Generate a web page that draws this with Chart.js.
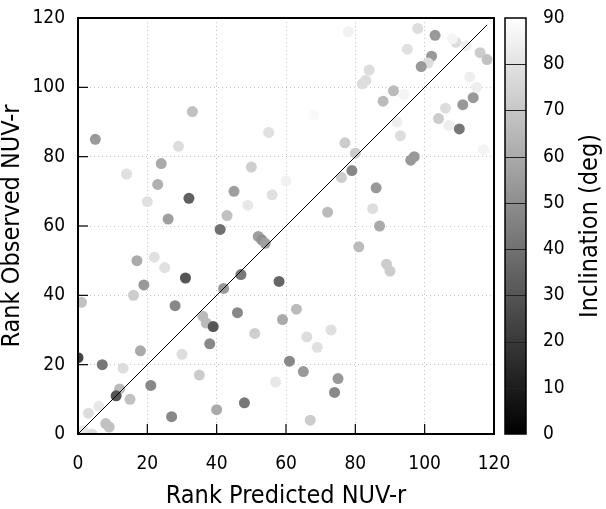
<!DOCTYPE html>
<html>
<head>
<meta charset="utf-8">
<script src="https://cdn.jsdelivr.net/npm/chart.js@4/dist/chart.umd.min.js"></script>
<style>
  html, body { margin: 0; padding: 0; background: #fff; }
  #wrap { width: 606px; height: 509px; }
</style>
</head>
<body>
<div id="wrap"><canvas id="chart" width="606" height="509"></canvas></div>
<script>
// Rank of predicted NUV-r for each galaxy
const predRank = [
  5, 33, 55, 29, 24, 14, 50, 23, 60, 45, 20, 32, 56, 49, 26, 43, 41, 52, 53, 54,
  17, 22, 25, 31, 47, 58, 19, 16, 42, 1, 28, 36, 37, 39, 46, 59, 51, 38, 18, 30,
  61, 0, 7, 13, 35, 57, 21, 12, 11, 15, 6, 3, 48, 40, 27, 8, 9, 1.5, 4,
  78, 98, 103, 109, 112, 116, 118, 95, 102, 101, 99, 113, 115, 114, 111, 106, 104, 107, 110, 117,
  84, 83, 82, 91, 88, 94, 68, 92, 93, 77, 80, 79, 76, 97, 96, 86, 85, 72, 87, 81,
  89, 90, 63, 73, 66, 69, 65, 75, 74, 67, 108
];
// Rank of observed NUV-r
const obsRank = [
  85, 93, 87, 83, 78, 75, 77, 72, 73, 70, 67, 68, 69, 66, 62, 63, 59, 57, 56, 55,
  50, 51, 48, 45, 46, 44, 43, 40, 42, 38, 37, 34, 32, 31, 35, 33, 29, 26, 24, 23,
  21, 22, 20, 19, 17, 15, 14, 13, 11, 10, 8, 6, 9, 7, 5, 3, 2, 1, 0,
  116, 117, 115, 113, 112, 110, 108, 111, 109, 107, 106, 103, 100, 97, 95, 94, 91, 89, 88, 82,
  105, 102, 101, 99, 96, 98, 92, 90, 86, 84, 81, 76, 74, 80, 79, 71, 65, 64, 60, 54,
  49, 47, 36, 30, 28, 25, 18, 16, 12, 4, 114
];
// Inclination in degrees (colour of each point)
const inclination = [
  54, 68, 79, 78, 60, 79, 73, 62, 85, 56, 79, 34, 79, 82, 56, 68, 40, 56, 51, 56,
  60, 79, 79, 30, 42, 36, 54, 72, 54, 68, 48, 66, 66, 30, 48, 60, 73, 48, 60, 78,
  48, 24, 42, 78, 72, 82, 48, 66, 30, 68, 82, 78, 42, 60, 48, 68, 68, 82, 78,
  85, 78, 54, 78, 84, 72, 68, 79, 54, 78, 54, 84, 84, 54, 54, 78, 72, 84, 42, 86,
  78, 78, 78, 66, 66, 86, 88, 84, 78, 72, 72, 48, 72, 54, 54, 54, 78, 66, 60, 66,
  72, 72, 66, 79, 78, 79, 54, 54, 48, 72, 86
];
const oneToOne = [0, 118];
const axisTicks = [0, 20, 40, 60, 80, 100, 120];
const cbTicks = [0, 10, 20, 30, 40, 50, 60, 70, 80, 90];

const FONT = "'DejaVu Sans Condensed', 'DejaVu Sans', sans-serif";
const AREA = { left: 78, top: 18, right: 494, bottom: 434 };

function greyFor(incl) {
  const g = Math.round(Math.max(0, Math.min(90, incl)) / 90 * 255);
  return 'rgb(' + g + ',' + g + ',' + g + ')';
}

const points = predRank.map((x, i) => ({ x: x, y: obsRank[i] }));
const pointColors = inclination.map(greyFor);

// Pin the plot box where the reference has it
const fixedLayout = {
  id: 'fixedLayout',
  afterLayout(chart) {
    const a = chart.chartArea;
    Object.assign(a, AREA, { width: AREA.right - AREA.left, height: AREA.bottom - AREA.top });
    const xs = chart.scales.x, ys = chart.scales.y, cb = chart.scales.cb;
    Object.assign(xs, { left: AREA.left, right: AREA.right, width: AREA.right - AREA.left,
      top: AREA.bottom, bottom: chart.height, height: chart.height - AREA.bottom });
    Object.assign(ys, { left: 0, right: AREA.left, width: AREA.left,
      top: AREA.top, bottom: AREA.bottom, height: AREA.bottom - AREA.top });
    Object.assign(cb, { left: AREA.right, right: chart.width, width: chart.width - AREA.right,
      top: AREA.top, bottom: AREA.bottom, height: AREA.bottom - AREA.top });
    [xs, ys, cb].forEach(s => s.configure());
  }
};

// Colour bar, frame and inward ticks
const decorations = {
  id: 'decorations',
  afterDraw(chart) {
    const ctx = chart.ctx;
    const area = chart.chartArea;
    const xs = chart.scales.x, ys = chart.scales.y, cb = chart.scales.cb;
    ctx.save();

    // colour bar
    const bx = cb.left + 11, bw = 21;
    const top = cb.getPixelForValue(90), bot = cb.getPixelForValue(0);
    const grad = ctx.createLinearGradient(0, bot, 0, top);
    grad.addColorStop(0, '#000');
    grad.addColorStop(1, '#fff');
    ctx.fillStyle = grad;
    ctx.fillRect(bx, top, bw, bot - top);
    ctx.strokeStyle = '#222';
    ctx.lineWidth = 1;
    cbTicks.forEach(v => {
      if (v === 0 || v === 90) return;
      const py = Math.round(cb.getPixelForValue(v)) + 0.5;
      ctx.beginPath();
      ctx.moveTo(bx, py);
      ctx.lineTo(bx + bw, py);
      ctx.stroke();
    });
    ctx.strokeStyle = '#000';
    ctx.lineWidth = 1.5;
    ctx.strokeRect(bx, top, bw, bot - top);

    // frame
    ctx.lineWidth = 2;
    ctx.strokeRect(area.left, area.top, area.right - area.left, area.bottom - area.top);

    // inward ticks
    ctx.lineWidth = 1.2;
    axisTicks.forEach(v => {
      const px = xs.getPixelForValue(v);
      ctx.beginPath();
      ctx.moveTo(px, area.bottom);
      ctx.lineTo(px, area.bottom - 10);
      ctx.stroke();
      const py = ys.getPixelForValue(v);
      ctx.beginPath();
      ctx.moveTo(area.left, py);
      ctx.lineTo(area.left + 10, py);
      ctx.stroke();
    });

    // colour bar title, reading bottom to top
    ctx.fillStyle = '#000';
    ctx.font = '25px ' + FONT;
    ctx.textAlign = 'center';
    ctx.textBaseline = 'alphabetic';
    ctx.translate(597, (top + bot) / 2);
    ctx.rotate(-Math.PI / 2);
    ctx.fillText('Inclination (deg)', 0, 0);
    ctx.restore();
  }
};

const gridStyle = {
  color: ctx => (ctx.tick.value === 0 || ctx.tick.value === 120) ? 'rgba(0,0,0,0)' : '#c8c8c8',
  lineWidth: 1,
  drawTicks: false
};

new Chart(document.getElementById('chart'), {
  type: 'scatter',
  data: {
    datasets: [
      {
        label: 'one-to-one',
        data: oneToOne.map(v => ({ x: v, y: v })),
        showLine: true,
        borderColor: '#000',
        borderWidth: 1,
        pointRadius: 0,
        order: 0
      },
      {
        label: 'galaxies',
        data: points,
        backgroundColor: pointColors,
        borderWidth: 0,
        pointRadius: 5.5,
        pointHoverRadius: 5.5,
        order: 1
      }
    ]
  },
  options: {
    responsive: false,
    devicePixelRatio: 1,
    animation: false,
    layout: { autoPadding: false },
    plugins: { legend: { display: false }, tooltip: { enabled: false } },
    scales: {
      x: {
        type: 'linear', min: 0, max: 120,
        ticks: { stepSize: 20, color: '#000', padding: 19, font: { family: FONT, size: 19 } },
        grid: gridStyle,
        border: { display: false, dash: [1, 3] },
        title: { display: true, text: 'Rank Predicted NUV-r', color: '#000',
          font: { family: FONT, size: 25, lineHeight: 1 }, padding: 0 }
      },
      y: {
        type: 'linear', min: 0, max: 120,
        ticks: { stepSize: 20, color: '#000', padding: 13, font: { family: FONT, size: 19 } },
        grid: gridStyle,
        border: { display: false, dash: [1, 3] },
        title: { display: true, text: 'Rank Observed NUV-r', color: '#000',
          font: { family: FONT, size: 25, lineHeight: 1 }, padding: 0 }
      },
      cb: {
        type: 'linear', position: 'right', min: 0, max: 90,
        ticks: { stepSize: 10, color: '#000', padding: 49, font: { family: FONT, size: 19 } },
        grid: { drawOnChartArea: false, drawTicks: false },
        border: { display: false }
      }
    }
  },
  plugins: [fixedLayout, decorations]
});
</script>
</body>
</html>
